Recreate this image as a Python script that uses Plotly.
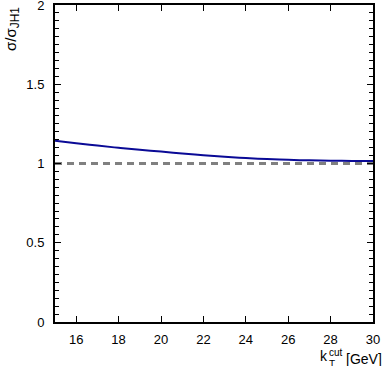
import plotly.graph_objects as go

# razao sigma / sigma_JH1 em funcao de kT cut
kt_cut = [15, 16, 17, 18, 19, 20, 21, 22, 23, 24, 25, 26, 27, 28, 29, 30]
razao = [1.144, 1.128, 1.113, 1.099, 1.087, 1.075, 1.063, 1.052, 1.042, 1.034,
         1.028, 1.023, 1.020, 1.018, 1.016, 1.016]
referencia = [1.0, 1.0]
ref_x = [15, 30]

fig = go.Figure()

fig.add_trace(go.Scatter(x=ref_x, y=referencia, mode='lines',
                         line=dict(color='#808080', width=3, dash='7px,5px'),
                         showlegend=False))
fig.add_trace(go.Scatter(x=kt_cut, y=razao, mode='lines', line_shape='spline',
                         line=dict(color='#0a0a96', width=2),
                         showlegend=False))

fonte = dict(family='Liberation Sans, Arial, sans-serif', size=13, color='black')
fonte_titulo = dict(family='Liberation Sans, Arial, sans-serif', size=14, color='black')
fonte_peq = dict(family='Liberation Sans, Arial, sans-serif', size=10, color='black')

fig.update_xaxes(range=[15, 30], tickvals=[16, 18, 20, 22, 24, 26, 28, 30],
                 ticks='inside', ticklen=6, tickwidth=1, tickcolor='black',
                 showline=True, linecolor='black', linewidth=2, mirror='ticks',
                 showgrid=False, zeroline=False, tickfont=fonte, ticklabelstandoff=4,
                 ticklabeloverflow='allow', automargin=False)
fig.update_yaxes(range=[0, 2], tickvals=[0, 0.5, 1, 1.5, 2], ticktext=['0', '0.5', '1', '1.5', '2'],
                 ticks='inside', ticklen=6, tickwidth=1, tickcolor='black',
                 minor=dict(dtick=0.05, ticks='inside', ticklen=4, tickcolor='black', showgrid=False),
                 showline=True, linecolor='black', linewidth=2, mirror='ticks',
                 showgrid=False, zeroline=False, tickfont=fonte, ticklabelstandoff=6,
                 ticklabeloverflow='allow', automargin=False)

# titulo do eixo x: k com "cut" em cima e "T" embaixo
fig.add_annotation(text='[GeV]', xref='paper', yref='paper', x=1.0, y=0, xshift=-29, yshift=-47,
                   xanchor='left', yanchor='bottom', showarrow=False, font=fonte_titulo)
fig.add_annotation(text='k', xref='paper', yref='paper', x=1.0, y=0, xshift=-55, yshift=-44,
                   xanchor='left', yanchor='bottom', showarrow=False, font=fonte_titulo)
fig.add_annotation(text='cut', xref='paper', yref='paper', x=1.0, y=0, xshift=-46, yshift=-38,
                   xanchor='left', yanchor='bottom', showarrow=False, font=fonte_peq)
fig.add_annotation(text='T', xref='paper', yref='paper', x=1.0, y=0, xshift=-46, yshift=-50,
                   xanchor='left', yanchor='bottom', showarrow=False, font=fonte_peq)

fig.add_annotation(text='σ/σ<sub><span style="font-size:12px">JH1</span></sub>', xref='paper', yref='paper',
                   x=0, xshift=-43, y=1.0, yshift=0, xanchor='center', yanchor='top', showarrow=False,
                   textangle=-90, font=dict(family='Liberation Sans, Arial, sans-serif', size=15, color='black'))

fig.update_layout(width=382, height=366, plot_bgcolor='white', paper_bgcolor='white',
                  margin=dict(l=55, r=9, t=5, b=44))

fig.write_html('out.html', config={'displayModeBar': False},
               post_script="document.body.style.margin='0';")
